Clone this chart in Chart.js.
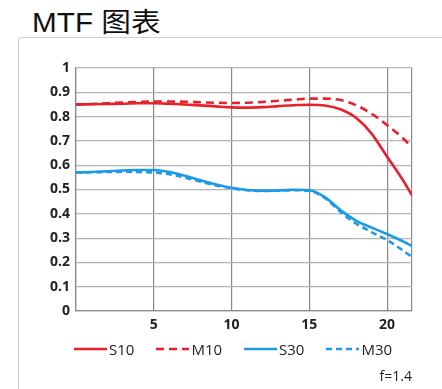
<!DOCTYPE html>
<html>
<head>
<meta charset="utf-8">
<script src="https://cdn.jsdelivr.net/npm/chart.js@4/dist/chart.umd.min.js"></script>
<style>
    html, body { margin: 0; padding: 0; background: #fff; }
    body { width: 442px; height: 389px; position: relative; overflow: hidden; }
    .title {
        position: absolute; left: 32px; top: 1px;
        font-family: 'Liberation Sans', 'Noto Sans CJK SC', sans-serif;
        font-size: 27px; color: #111;
        transform: scaleX(1.1); transform-origin: left top;
        white-space: nowrap;
    }
    .card {
        position: absolute; left: 18px; top: 37px; width: 460px; height: 400px;
        border-left: 1px solid #cfcfcf; border-top: 1px solid #cfcfcf;
        border-top-left-radius: 4px;
    }
    #mtfChart { position: absolute; left: 0; top: 0; }
    .legend {
        position: absolute; left: 74px; top: 339px;
        display: flex; align-items: center;
        font-family: 'Open Sans', sans-serif; font-size: 15px; color: #222;
    }
    .legend-item { display: flex; align-items: center; margin-right: 22px; }
    .legend-item svg { margin-right: 2px; }
    .note {
        position: absolute; right: 30px; top: 366px;
        font-family: 'Open Sans', sans-serif; font-size: 14px; color: #222;
    }
</style>
</head>
<body>
<div class="title">MTF 图表</div>
<div class="card"></div>
<canvas id="mtfChart" width="442" height="389"></canvas>
<div class="legend" id="legend"></div>
<div class="note">f=1.4</div>

<script>
/* data */
var xValues = [0, 1, 2, 3, 4, 5, 6, 7, 8, 9, 10, 11, 12, 13, 14, 15, 16, 17, 18, 19, 20, 21, 21.6];
var s10 = [0.850, 0.851, 0.852, 0.853, 0.855, 0.855, 0.853, 0.850, 0.846, 0.842, 0.838, 0.837, 0.839, 0.843, 0.847, 0.849, 0.846, 0.830, 0.795, 0.730, 0.635, 0.540, 0.476];
var m10 = [0.850, 0.852, 0.855, 0.858, 0.860, 0.862, 0.862, 0.861, 0.859, 0.857, 0.856, 0.857, 0.860, 0.865, 0.870, 0.874, 0.874, 0.868, 0.847, 0.812, 0.765, 0.712, 0.675];
var s30 = [0.570, 0.572, 0.575, 0.578, 0.580, 0.580, 0.572, 0.557, 0.538, 0.521, 0.507, 0.498, 0.495, 0.496, 0.499, 0.497, 0.469, 0.415, 0.372, 0.343, 0.317, 0.287, 0.268];
var m30 = [0.570, 0.571, 0.572, 0.573, 0.572, 0.570, 0.563, 0.549, 0.532, 0.517, 0.505, 0.497, 0.494, 0.495, 0.497, 0.494, 0.465, 0.408, 0.360, 0.325, 0.292, 0.250, 0.222];

var seriesNames = ['S10', 'M10', 'S30', 'M30'];
var xTicks = [0, 5, 10, 15, 20, 21.6];
var yMin = 0, yMax = 1, yStep = 0.1;

var RED = '#e8202a';
var BLUE = '#1c9ae6';

function toPoints(ys) {
    return ys.map(function (y, i) { return { x: xValues[i], y: y }; });
}

var seriesStyles = [
    { color: RED,  dash: [] },
    { color: RED,  dash: [8, 5] },
    { color: BLUE, dash: [] },
    { color: BLUE, dash: [6, 4] }
];
var seriesData = [s10, m10, s30, m30];

var datasets = seriesNames.map(function (name, i) {
    return {
        label: name,
        data: toPoints(seriesData[i]),
        borderColor: seriesStyles[i].color,
        borderDash: seriesStyles[i].dash,
        borderWidth: 2.6,
        pointRadius: 0,
        fill: false,
        cubicInterpolationMode: 'monotone'
    };
});

var tickFont = { family: "'Open Sans', sans-serif", size: 14, weight: '700' };

new Chart(document.getElementById('mtfChart').getContext('2d'), {
    type: 'line',
    data: { datasets: datasets },
    options: {
        responsive: false,
        animation: false,
        layout: { padding: { top: 68, right: 30, bottom: 58, left: 18 } },
        plugins: {
            legend: { display: false },
            tooltip: { enabled: false }
        },
        scales: {
            x: {
                type: 'linear',
                min: 0,
                max: 21.6,
                afterBuildTicks: function (scale) {
                    scale.ticks = xTicks.map(function (v) { return { value: v }; });
                },
                afterFit: function (scale) { scale.height = 20; },
                ticks: {
                    autoSkip: false,
                    maxRotation: 0,
                    padding: 6,
                    color: '#222',
                    font: tickFont,
                    callback: function (v) { return (v === 0 || v === 21.6) ? '' : String(v); }
                },
                grid: { color: '#888', lineWidth: 1.2, drawTicks: false },
                border: { color: '#888', width: 1.2 }
            },
            y: {
                min: yMin,
                max: yMax,
                afterFit: function (scale) { scale.width = 58; },
                ticks: {
                    stepSize: yStep,
                    padding: 6,
                    color: '#222',
                    font: tickFont,
                    callback: function (v) {
                        var r = Math.round(v * 10) / 10;
                        return (r === 0 || r === 1) ? String(r) : r.toFixed(1);
                    }
                },
                grid: { color: '#b4b4b4', lineWidth: 1.2, drawTicks: false },
                border: { color: '#888', width: 1.2 }
            }
        }
    }
});

/* legend in html */
var legendEl = document.getElementById('legend');
seriesNames.forEach(function (name, i) {
    var st = seriesStyles[i];
    var item = document.createElement('div');
    item.className = 'legend-item';
    item.innerHTML =
        '<svg width="33" height="6"><line x1="0" y1="3" x2="33" y2="3" stroke="' + st.color +
        '" stroke-width="2.6"' + (st.dash.length ? ' stroke-dasharray="' + st.dash.join(',') + '"' : '') +
        '/></svg><span>' + name + '</span>';
    legendEl.appendChild(item);
});
</script>
</body>
</html>
